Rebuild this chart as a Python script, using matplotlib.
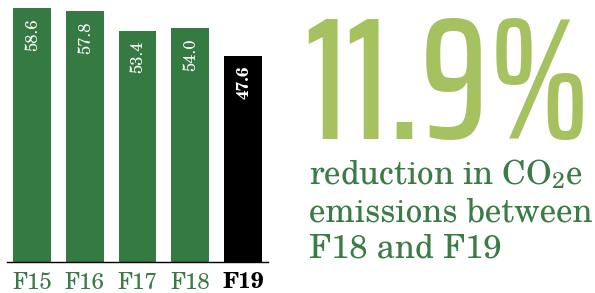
import matplotlib
matplotlib.use("Agg")
import matplotlib.pyplot as plt
from matplotlib import font_manager as fm
from matplotlib.font_manager import FontProperties
from matplotlib.textpath import TextPath

categories = ["F15", "F16", "F17", "F18", "F19"]
values = [58.6, 57.8, 53.4, 54.0, 47.6]
value_labels = ["58.6", "57.8", "53.4", "54.0", "47.6"]
headline = "11.9%"
subtitle_lines = ["reduction in CO$_2$e", "emissions between", "F18 and F19"]

GREEN = "#367a43"
TEXT_GREEN = "#3a7b46"
LIGHT_GREEN = "#a6c260"

W, H = 595, 293
PX2PT = 72 / 100

installed = {f.name for f in fm.fontManager.ttflist}

serif_candidates = ["C059", "TeX Gyre Schola", "Century Schoolbook L",
                    "New Century Schoolbook", "Century Schoolbook"]
SERIF = next((n for n in serif_candidates if n in installed), "DejaVu Serif")

cond_candidates = ["Saira ExtraCondensed", "Saira Extra Condensed", "Big Shoulders Display",
                   "League Gothic", "Antonio", "Oswald", "Fjalla One", "Saira Condensed",
                   "Barlow Condensed", "Roboto Condensed", "Pathway Gothic One", "Bebas Neue",
                   "Anton", "Teko", "IBM Plex Sans Condensed", "Fira Sans Extra Condensed",
                   "Encode Sans Condensed", "Archivo Narrow", "Asap Condensed",
                   "Sofia Sans Extra Condensed", "Sofia Sans Condensed"]


def wnum(w):
    if isinstance(w, str):
        return fm.weight_dict.get(w, 400)
    return int(w)


def ink_fp(text, fp, size=100):
    ext = TextPath((0, 0), text, size=size, prop=fp).get_extents()
    return ext.x0, ext.y0, ext.width, ext.height


def ink(text, family, weight="normal", size=100):
    return ink_fp(text, FontProperties(family=family, weight=weight), size)


# pick a bold condensed font file whose "11.9%" proportions best match the reference
target_w, target_h = 275.0, 127.0
best = None
for f in fm.fontManager.ttflist:
    if f.name not in cond_candidates or f.style != "normal":
        continue
    wt = wnum(f.weight)
    if wt < 500 or wt > 900:
        continue
    try:
        fp = FontProperties(fname=f.fname)
        x0, y0, w, h = ink_fp(headline, fp)
    except Exception:
        continue
    if h <= 0:
        continue
    score = abs(w / h - target_w / target_h) + abs(wt - 650) / 2000
    if best is None or score < best[0]:
        best = (score, fp, x0, y0, w, h)
if best is None:
    fp = FontProperties(family="DejaVu Sans", weight="bold", stretch="condensed")
    best = (0, fp) + ink_fp(headline, fp)
_, HEAD_FP, hx0, hy0, hw, hh = best
h_scale = min(target_h / hh, target_w / hw)
head_size_px = 100 * h_scale

fig = plt.figure(figsize=(W / 100, H / 100), dpi=100)

ax_left, ax_right = 7, 268
ax_bottom_px, ax_top_px = 262, 2
ax = fig.add_axes([ax_left / W, (H - ax_bottom_px) / H,
                   (ax_right - ax_left) / W, (ax_bottom_px - ax_top_px) / H])

x = list(range(len(categories)))
colors = [GREEN] * (len(categories) - 1) + ["black"]
ax.bar(x, values, width=0.72, color=colors, zorder=2)
ax.set_xlim(-0.474, len(categories) - 1 + 0.474)
ax.set_ylim(0, (ax_bottom_px - ax_top_px) / 4.335)

# value labels sized so "58.6" is ~31 px long
_, _, vw, _ = ink("58.6", SERIF)
val_size = 100 * 31 / vw * PX2PT
for i, (v, lab) in enumerate(zip(values, value_labels)):
    last = i == len(values) - 1
    ax.annotate(lab, xy=(i, v), xytext=(0.5, -7.5), textcoords="offset points",
                ha="center", va="top", rotation=90, color="white",
                fontsize=val_size, family=SERIF,
                fontweight="bold" if last else "normal")

for s in ["top", "left", "right"]:
    ax.spines[s].set_visible(False)
ax.spines["bottom"].set_color("black")
ax.spines["bottom"].set_linewidth(1.0)
ax.set_yticks([])
ax.set_xticks(x)
_, _, tw, _ = ink("F15", SERIF)
tick_size = 100 * 38 / tw * PX2PT
ax.set_xticklabels(categories, family=SERIF, fontsize=tick_size)
ax.tick_params(axis="x", length=0, pad=7)
for i, t in enumerate(ax.get_xticklabels()):
    if i == len(categories) - 1:
        t.set_color("black")
        t.set_fontweight("bold")
    else:
        t.set_color(TEXT_GREEN)

# headline: ink box from x=308, bottom at y=140 (pixels from top)
hx = 308 - hx0 * h_scale
hbase = (H - 140) - hy0 * h_scale
head_fp = HEAD_FP.copy()
head_fp.set_size(head_size_px * PX2PT)
fig.text(hx / W, hbase / H, headline, ha="left", va="baseline",
         fontproperties=head_fp, color=LIGHT_GREEN)

# subtitle: "emissions between" ~282 px wide
plt.rcParams["mathtext.fontset"] = "custom"
plt.rcParams["mathtext.rm"] = SERIF
plt.rcParams["mathtext.it"] = SERIF
_, _, sw, _ = ink("emissions between", SERIF)
sub_size = 100 * 282 / sw * PX2PT
baselines = [184, 221, 257]
for line, b in zip(subtitle_lines, baselines):
    fig.text(309 / W, (H - b) / H, line, ha="left", va="baseline",
             fontsize=sub_size, family=SERIF, color=TEXT_GREEN)

fig.savefig("out.png", dpi=100)
